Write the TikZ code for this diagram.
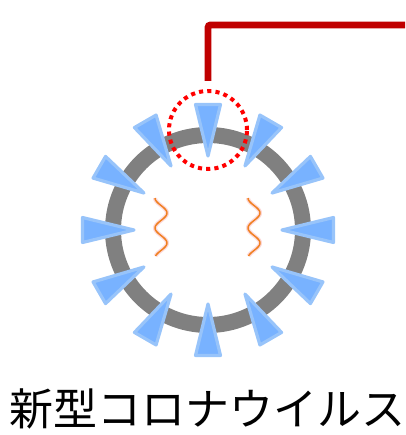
\documentclass[tikz,border=0pt]{standalone}
\usepackage{fontspec}
\usetikzlibrary{calc}
\newfontfamily\jpfont{Noto Sans CJK JP}
\definecolor{ringgray}{RGB}{128,128,128}
\definecolor{spikefill}{RGB}{120,178,255}
\definecolor{spikeedge}{RGB}{152,196,250}
\definecolor{calloutred}{RGB}{192,0,0}
\definecolor{dotred}{RGB}{255,0,0}
\definecolor{rnaorange}{RGB}{240,128,32}
\definecolor{rnapink}{RGB}{250,190,190}
\begin{document}
\begin{tikzpicture}[x=0.75pt,y=-0.75pt,
  shell/.style={draw=ringgray,line width=12pt},
  spike/.style={fill=spikefill,draw=spikeedge,line width=2.4pt,line join=round},
  rna/.style={draw=rnaorange,line width=1.1pt},
  rnahalo/.style={draw=rnapink,line width=3pt,opacity=0.6},
  focus/.style={draw=dotred,line width=3pt,dash pattern=on 3.1pt off 3.1pt,circle,minimum size=58.5pt,inner sep=0pt},
  callout/.style={draw=calloutred,line width=5.2pt,rounded corners=2pt},
  caption/.style={font=\jpfont\fontsize{33}{38}\selectfont,inner sep=0pt}]
\useasboundingbox (0,0) rectangle (405,435);
\coordinate (c) at (208,230);
% envelope
\draw[shell] (c) circle [radius=95];
% spike proteins
\foreach \a in {0,30,...,330}{
  \draw[spike] ($(c)+(\a:125.5)+(\a+90:12.5)$) -- ($(c)+(\a:125.5)+(\a-90:12.5)$)
    -- ($(c)+(\a:74)$) -- cycle;
}
% genome strands
\foreach \x in {161,254}{
  \draw[rnahalo] plot[domain=0:58,samples=80,smooth,variable=\t] ({\x-6*cos(12*\t)},{198+\t});
  \draw[rna] plot[domain=0:58,samples=80,smooth,variable=\t] ({\x-6*cos(12*\t)},{198+\t});
}
% highlighted spike and its callout line
\node[focus] (spot) at (208,130) {};
\coordinate (lead) at (405,25);
\draw[callout] ([yshift=6pt]spot.north) |- (lead);
% caption
\node[caption] (name) at (207,409) {新型コロナウイルス};
\end{tikzpicture}
\end{document}
